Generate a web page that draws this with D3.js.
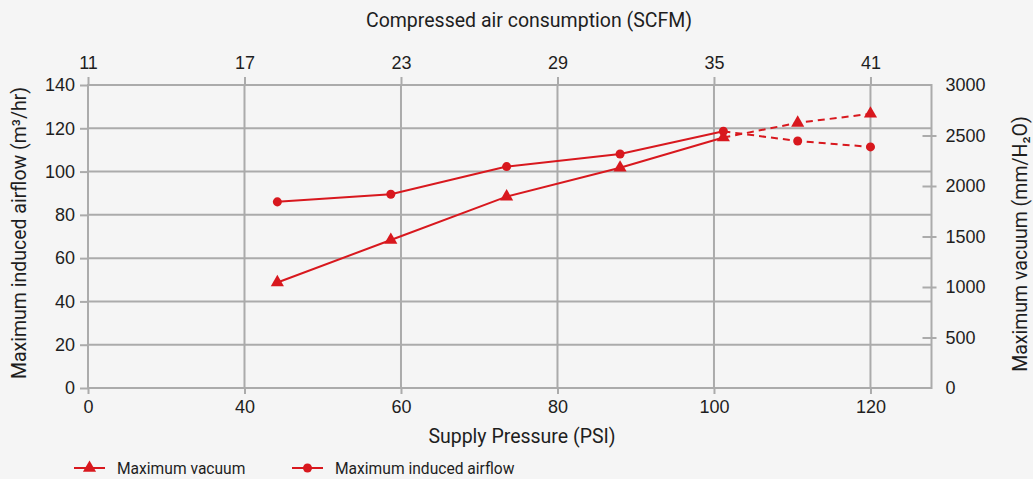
<!DOCTYPE html>
<html><head><meta charset="utf-8">
<script src="https://cdn.jsdelivr.net/npm/d3@7"></script>
<style>
body{margin:0;background:#f5f5f5;}
svg{display:block;font-family:Roboto, "DejaVu Sans", sans-serif;}
</style></head>
<body>
<svg id="c" width="1033" height="479"></svg>
<script>
// ---- data ----
const supplyPressure = [44.2, 58.7, 73.5, 88, 101.2, 110.7, 120];
const maxAirflow = [86, 89.5, 102.3, 108.1, 118.6, 114.1, 111.4];      // m3/hr (left axis)
const maxVacuum = [1045, 1465, 1895, 2180, 2480, 2625, 2715];          // mm/H2O (right axis)
const solidCount = 5; // first 5 points solid, rest dashed

const psiTicks = [20, 40, 60, 80, 100, 120];
const psiTickLabels = ["0", "40", "60", "80", "100", "120"];
const scfmTicks = [11, 17, 23, 29, 35, 41];
const airflowTicks = [0, 20, 40, 60, 80, 100, 120, 140];
const vacuumTicks = [0, 500, 1000, 1500, 2000, 2500, 3000];

const titleTop = "Compressed air consumption (SCFM)";
const titleBottom = "Supply Pressure (PSI)";
const titleLeft = "Maximum induced airflow (m\u00B3/hr)";
const titleRight = "Maximum vacuum (mm/H\u2082O)";
const legendLabels = ["Maximum vacuum", "Maximum induced airflow"];

// ---- layout ----
const L = 88, R = 931.5, T = 85, B = 388;
const red = "#d8181e", grid = "#ababab", txt = "#1e1e1e";

const svg = d3.select("#c");
svg.append("rect").attr("width", 1033).attr("height", 479).attr("fill", "#f5f5f5");

const x = d3.scaleLinear().domain([20, 127.8]).range([L, R]);
const xTop = d3.scaleLinear().domain([11, 11 + 107.8 * 0.3]).range([L, R]);
const yL = d3.scaleLinear().domain([0, 140]).range([B, T]);
const yR = d3.scaleLinear().domain([0, 3000]).range([B, T]);

// gridlines
const g = svg.append("g");
g.selectAll(".hg").data(airflowTicks.slice(1, -1)).join("line")
  .attr("x1", L).attr("x2", R).attr("y1", d => yL(d)).attr("y2", d => yL(d))
  .attr("stroke", grid).attr("stroke-width", 2);
g.selectAll(".vg").data(psiTicks.slice(1)).join("line")
  .attr("y1", T).attr("y2", B).attr("x1", d => x(d)).attr("x2", d => x(d))
  .attr("stroke", grid).attr("stroke-width", 2);
g.append("rect").attr("x", L).attr("y", T).attr("width", R - L).attr("height", B - T)
  .attr("fill", "none").attr("stroke", grid).attr("stroke-width", 2);

function styleAxis(sel) {
  sel.select(".domain").remove();
  sel.selectAll(".tick line").attr("stroke", grid).attr("stroke-width", 2);
  sel.selectAll(".tick text").attr("fill", txt).attr("font-size", 18);
}

// bottom axis
svg.append("g").attr("transform", `translate(0,${B})`)
  .call(d3.axisBottom(x).tickValues(psiTicks).tickSize(6).tickPadding(6)
    .tickFormat((d, i) => psiTickLabels[i]))
  .call(styleAxis);
// top axis
svg.append("g").attr("transform", `translate(0,${T})`)
  .call(d3.axisTop(xTop).tickValues(scfmTicks).tickSize(8).tickPadding(8).tickFormat(d3.format("d")))
  .call(styleAxis);
// left axis
svg.append("g").attr("transform", `translate(${L},0)`)
  .call(d3.axisLeft(yL).tickValues(airflowTicks).tickSize(8).tickPadding(5).tickFormat(d3.format("d")))
  .call(styleAxis);
// right axis
const ra = svg.append("g").attr("transform", `translate(${R},0)`)
  .call(d3.axisRight(yR).tickValues(vacuumTicks).tickSize(5).tickPadding(9).tickFormat(d3.format("d")))
  .call(styleAxis);
ra.selectAll(".tick line").attr("x1", -9).attr("x2", 5)
  .attr("display", d => (d === 0 || d === 3000) ? "none" : null);

// axis titles
const tfs = 19.5;
svg.append("text").attr("x", 529).attr("y", 27).attr("text-anchor", "middle")
  .attr("font-size", tfs).attr("fill", txt).text(titleTop);
svg.append("text").attr("x", 522).attr("y", 443).attr("text-anchor", "middle")
  .attr("font-size", tfs).attr("fill", txt).text(titleBottom);
svg.append("text").attr("transform", "translate(25.5,233) rotate(-90)").attr("text-anchor", "middle")
  .attr("font-size", tfs).attr("fill", txt).text(titleLeft);
svg.append("text").attr("transform", "translate(1027,244) rotate(-90)").attr("text-anchor", "middle")
  .attr("font-size", tfs).attr("fill", txt).text(titleRight);

// series
const pts = (ys, ysc) => supplyPressure.map((p, i) => [x(p), ysc(ys[i])]);
const line = d3.line();
const series = [
  {vals: maxVacuum, sc: yR, sym: d3.symbolTriangle, size: 75},
  {vals: maxAirflow, sc: yL, sym: d3.symbolCircle, size: 64}
];
const sg = svg.append("g");
series.forEach(s => {
  const p = pts(s.vals, s.sc);
  sg.append("path").attr("d", line(p.slice(0, solidCount))).attr("fill", "none")
    .attr("stroke", red).attr("stroke-width", 2);
  sg.append("path").attr("d", line(p.slice(solidCount - 1))).attr("fill", "none")
    .attr("stroke", red).attr("stroke-width", 2).attr("stroke-dasharray", "7,5");
  sg.selectAll(null).data(p).join("path")
    .attr("transform", d => `translate(${d[0]},${d[1]})`)
    .attr("d", d3.symbol(s.sym, s.size)).attr("fill", red);
});

// legend
const legX = [74, 292];
const lg = svg.append("g");
series.forEach((s, i) => {
  const gx = legX[i], gy = 468;
  lg.append("line").attr("x1", gx).attr("x2", gx + 31).attr("y1", gy).attr("y2", gy)
    .attr("stroke", red).attr("stroke-width", 2);
  lg.append("path").attr("transform", `translate(${gx + 15.5},${gy})`)
    .attr("d", d3.symbol(s.sym, s.size)).attr("fill", red);
  lg.append("text").attr("x", gx + 43).attr("y", gy + 5.5).attr("font-size", 15.6)
    .attr("fill", txt).text(legendLabels[i]);
});
</script>
</body></html>
